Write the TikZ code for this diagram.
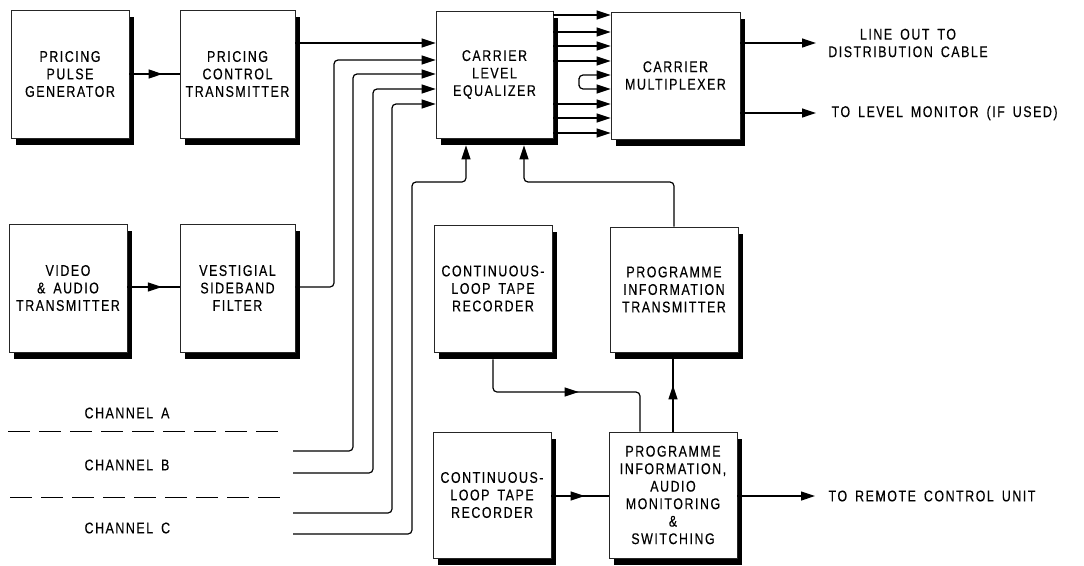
\documentclass[tikz,border=0pt]{standalone}
\usepackage{fontspec}
\setmainfont{Liberation Sans}[FakeStretch=0.8,LetterSpace=10,WordSpace=1.6,FakeBold=0.35]
\usetikzlibrary{arrows.meta,shadows,decorations.markings}
\begin{document}
\begin{tikzpicture}[x=1pt,y=-1pt,
  >={Triangle[length=14pt,width=9pt]},
  line width=1.2pt,
  box/.style={draw=black!85, line width=0.8pt, fill=white, align=center,
    font=\fontsize{15.5}{17.5}\selectfont, inner sep=0pt,
    drop shadow={shadow xshift=5pt, shadow yshift=-7pt, fill=black, opacity=1}},
  lbl/.style={font=\fontsize{15.5}{17.5}\selectfont, inner sep=0pt},
  rc/.style={rounded corners=4pt},
  chdash/.style={line width=0.9pt, dash pattern=on 22pt off 9pt},
  midarrow/.style={postaction={decorate,decoration={markings,mark=at position #1 with {\arrow{>}}}}}
]
\useasboundingbox (0,0) rectangle (1084,565);

% boxes
\node[box, minimum width=118pt, minimum height=128pt] (ppg) at (70,74) {PRICING\\PULSE\\GENERATOR};
\node[box, minimum width=115pt, minimum height=128pt] (pct) at (237.5,74) {PRICING\\CONTROL\\TRANSMITTER};
\node[box, minimum width=118pt, minimum height=128pt] (vat) at (68,288) {VIDEO\\\& AUDIO\\TRANSMITTER};
\node[box, minimum width=115pt, minimum height=128pt] (vsf) at (237.5,288) {VESTIGIAL\\SIDEBAND\\FILTER};
\node[box, minimum width=117pt, minimum height=127pt] (cle) at (494.5,74.5) {CARRIER\\LEVEL\\EQUALIZER};
\node[box, minimum width=129pt, minimum height=127pt] (cmx) at (675.5,75.5) {CARRIER\\MULTIPLEXER};
\node[box, minimum width=118pt, minimum height=127pt] (clr1) at (493,288.5) {CONTINUOUS-\\LOOP TAPE\\RECORDER};
\node[box, minimum width=128pt, minimum height=125pt] (pit) at (674,289.5) {PROGRAMME\\INFORMATION\\TRANSMITTER};
\node[box, minimum width=118pt, minimum height=126pt] (clr2) at (492,495) {CONTINUOUS-\\LOOP TAPE\\RECORDER};
\node[box, minimum width=128pt, minimum height=126pt] (piam) at (673,495) {PROGRAMME\\INFORMATION,\\AUDIO\\MONITORING\\\&\\SWITCHING};

\coordinate (cleb) at ([yshift=-7pt]cle.south);
\coordinate (pitb) at ([yshift=-7pt]pit.south);
\coordinate (clr1b) at ([yshift=-7pt]clr1.south);

% left side connectors
\draw[midarrow=0.66] (ppg.east) -- (pct.west);
\draw[midarrow=0.66] (vat.east |- 0,287) -- (vsf.west |- 0,287);
\draw[->] (pct.east |- 0,43) -- (cle.west |- 0,43);
\draw[->,rc] (vsf.east |- 0,287) -| (334,60) -- (cle.west |- 0,60);

% channel lines
\coordinate (c1) at (293,451);
\coordinate (c2) at (293,473);
\coordinate (c3) at (293,513);
\coordinate (c4) at (293,534);
\draw[->,rc] (c1) -| (353,74) -- (cle.west |- 0,74);
\draw[->,rc] (c2) -| (373,89) -- (cle.west |- 0,89);
\draw[->,rc] (c3) -| (392,104) -- (cle.west |- 0,104);
\draw[->,rc] (c4) -| (412,182) -| (cleb -| 466,0);
\draw[->,rc] (pit.north) |- (524,182) -- (cleb -| 524,0);

% equalizer to multiplexer
\foreach \y in {15,32,46,61,104,118,133}
  \draw[->] (cle.east |- 0,\y) -- (cmx.west |- 0,\y);
\draw[<->,rc] (cmx.west |- 0,75) -| (579,82) |- (cmx.west |- 0,89);

% multiplexer outputs
\coordinate (o1) at (816,43);
\coordinate (o2) at (816,113);
\draw[->] (cmx.east |- 0,43) -- (o1);
\draw[->] (cmx.east |- 0,113) -- (o2);
\node[lbl, align=center] (t1) at (908,43) {LINE OUT TO\\DISTRIBUTION CABLE};
\node[lbl, anchor=west] (t2) at (831,113) {TO LEVEL MONITOR (IF USED)};

% lower middle connectors
\draw[rc, midarrow=0.54] (clr1b) |- (640,392) -- (piam.north -| 640,0);
\draw[midarrow=0.64] (piam.north) -- (piam.north |- pitb);
\draw[midarrow=0.58] (clr2.east |- 0,496) -- (piam.west |- 0,496);
\coordinate (o3) at (815,496);
\draw[->] (piam.east |- 0,496) -- (o3);
\node[lbl, anchor=west] (t3) at (828,496) {TO REMOTE CONTROL UNIT};

% channel labels
\node[lbl, anchor=west] (chA) at (84,413) {CHANNEL\ A};
\node[lbl, anchor=west] (chB) at (84,465) {CHANNEL\ B};
\node[lbl, anchor=west] (chC) at (84,528) {CHANNEL\ C};
\draw[chdash] (8,431) -- (280,431);
\draw[chdash] (10,497) -- (283,497);
\end{tikzpicture}
\end{document}
